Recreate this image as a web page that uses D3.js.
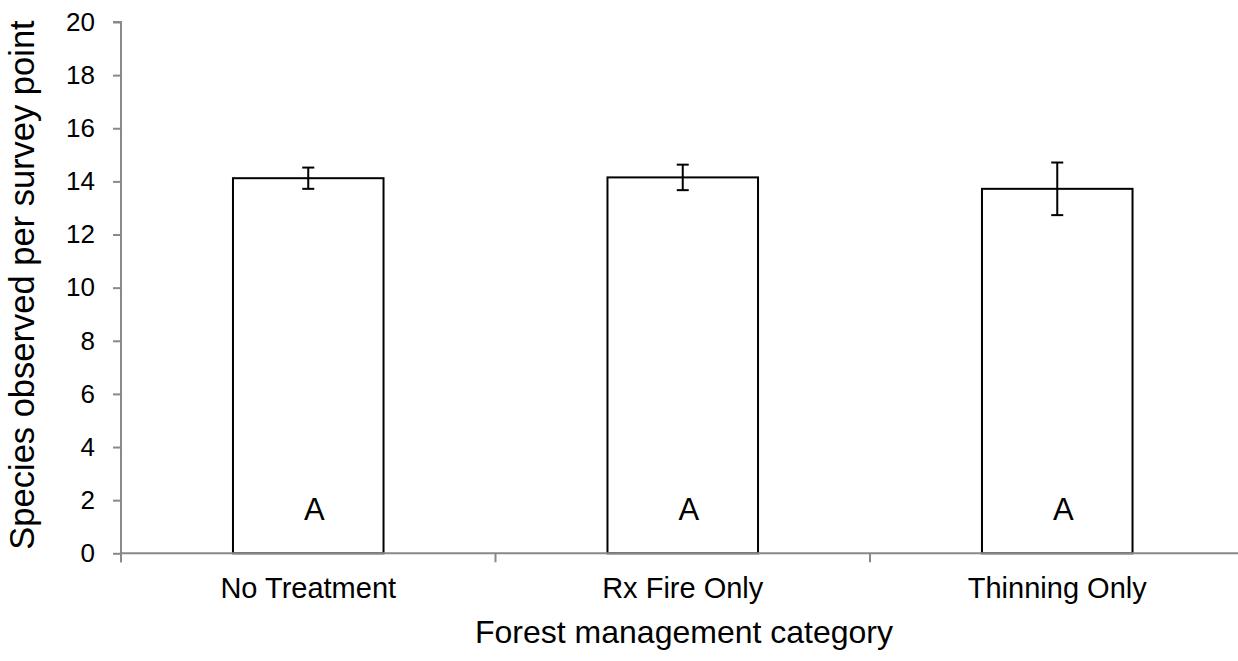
<!DOCTYPE html>
<html>
<head>
<meta charset="utf-8">
<script src="https://cdn.jsdelivr.net/npm/d3@7"></script>
<style>
  html, body { margin: 0; padding: 0; background: #fff; }
  svg { display: block; font-family: "Liberation Sans", Arial, sans-serif; }
</style>
</head>
<body>
<svg id="chart" width="1238" height="661"></svg>
<script>
const categories = ["No Treatment", "Rx Fire Only", "Thinning Only"];
const means = [14.12, 14.15, 13.72];
const errors = [0.40, 0.48, 0.99];
const letters = ["A", "A", "A"];
const yTicks = [0, 2, 4, 6, 8, 10, 12, 14, 16, 18, 20];
const yTitle = "Species observed per survey point";
const xTitle = "Forest management category";

(function () {
const svg = d3.select("#chart");
const pLeft = 121, pRight = 1244.5, pTop = 22, pBottom = 553.3;
const axisColor = "#898989";
const fontFam = "Liberation Sans, Arial, sans-serif";

const x = d3.scaleBand().domain(categories).range([pLeft, pRight])
  .paddingInner(0.598).paddingOuter(0.299);
const y = d3.scaleLinear().domain([0, 20]).range([pBottom, pTop]);
const step = x.step();

// bars
svg.append("g").selectAll("rect").data(categories).join("rect")
  .attr("x", d => x(d))
  .attr("y", (d, i) => y(means[i]))
  .attr("width", x.bandwidth())
  .attr("height", (d, i) => y(0) - y(means[i]))
  .attr("fill", "#fff")
  .attr("stroke", "#000")
  .attr("stroke-width", 2);

// error bars
const eb = svg.append("g").attr("stroke", "#000").attr("stroke-width", 2);
categories.forEach((c, i) => {
  const cx = x(c) + x.bandwidth() / 2;
  const yt = y(means[i] + errors[i]), yb = y(means[i] - errors[i]);
  eb.append("line").attr("x1", cx).attr("x2", cx).attr("y1", yt).attr("y2", yb);
  eb.append("line").attr("x1", cx - 6).attr("x2", cx + 6).attr("y1", yt).attr("y2", yt);
  eb.append("line").attr("x1", cx - 6).attr("x2", cx + 6).attr("y1", yb).attr("y2", yb);
});

// letters
svg.append("g").selectAll("text").data(categories).join("text")
  .attr("x", d => x(d) + x.bandwidth() / 2 + 6)
  .attr("y", 519.5)
  .attr("text-anchor", "middle")
  .attr("font-size", 31)
  .attr("fill", "#000")
  .text((d, i) => letters[i]);

// y axis
const yAxis = svg.append("g").attr("transform", `translate(${pLeft},0)`)
  .call(d3.axisLeft(y).tickValues(yTicks).tickSize(8).tickPadding(18).tickFormat(d3.format("d")));
yAxis.select(".domain").attr("stroke", axisColor).attr("stroke-width", 2)
  .attr("d", `M-8,${pTop}H0V${pBottom + 9}`);
yAxis.selectAll(".tick line").attr("stroke", axisColor).attr("stroke-width", 2);
yAxis.selectAll(".tick text").attr("font-size", 26).attr("fill", "#000")
  .attr("font-family", fontFam);

// x axis
const xAxis = svg.append("g").attr("transform", `translate(0,${pBottom})`);
xAxis.append("line").attr("x1", pLeft).attr("x2", 1238).attr("y1", 0).attr("y2", 0)
  .attr("stroke", axisColor).attr("stroke-width", 2);
const boundaries = categories.map(c => x(c) - x.paddingInner() * step / 2);
xAxis.selectAll("line.tk").data(boundaries).join("line").attr("class", "tk")
  .attr("x1", d => d).attr("x2", d => d).attr("y1", 0).attr("y2", 9)
  .attr("stroke", axisColor).attr("stroke-width", 2);
xAxis.selectAll("text").data(categories).join("text")
  .attr("x", d => x(d) + x.bandwidth() / 2)
  .attr("y", 45)
  .attr("text-anchor", "middle")
  .attr("font-size", 29)
  .attr("fill", "#000")
  .text(d => d);

// titles
svg.append("text")
  .attr("x", 684).attr("y", 643)
  .attr("text-anchor", "middle").attr("font-size", 32).attr("fill", "#000")
  .text(xTitle);
svg.append("text")
  .attr("transform", `translate(34,285) rotate(-90)`)
  .attr("text-anchor", "middle").attr("font-size", 34.5).attr("fill", "#000")
  .text(yTitle);
})();
</script>
</body>
</html>
